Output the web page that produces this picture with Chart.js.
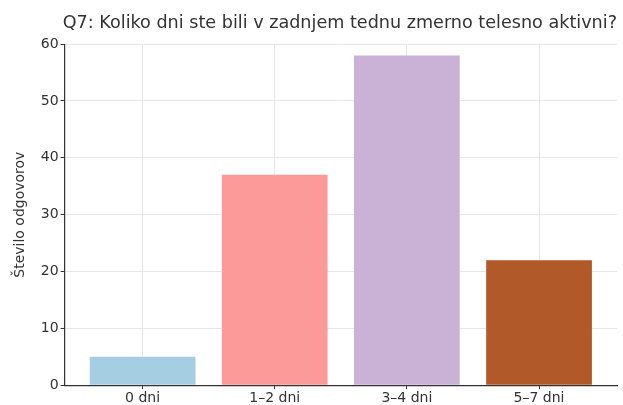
<!DOCTYPE html>
<html>
<head>
<meta charset="utf-8">
<script src="https://cdn.jsdelivr.net/npm/chart.js@4/dist/chart.umd.min.js"></script>
<style>
  html, body { margin: 0; padding: 0; background: #fff; }
  #wrap { width: 623px; height: 405px; }
</style>
</head>
<body>
<div id="wrap"><canvas id="c"></canvas></div>
<script>
const categories = ['0 dni', '1–2 dni', '3–4 dni', '5–7 dni'];
const counts = [5, 37, 58, 22];
const barColors = ['#a6cee3', '#fb9a99', '#cab2d6', '#b15928'];
const yTicks = [0, 10, 20, 30, 40, 50, 60];

const font = 'DejaVu Sans';

new Chart(document.getElementById('c'), {
    type: 'bar',
    data: {
        datasets: [{
            data: counts.map((v, i) => ({ x: i, y: v })),
            backgroundColor: barColors,
            borderWidth: 0,
            barPercentage: 0.8,
            categoryPercentage: 1
        }]
    },
    options: {
        responsive: true,
        maintainAspectRatio: false,
        animation: false,
        layout: { padding: { left: 8, right: 6, top: 7, bottom: -3 } },
        plugins: {
            legend: { display: false },
            tooltip: { enabled: false },
            title: {
                display: true,
                align: 'end',
                text: 'Q7: Koliko dni ste bili v zadnjem tednu zmerno telesno aktivni?',
                color: '#333',
                font: { family: font, size: 17.6, weight: 'normal' },
                padding: { top: 6, bottom: 10 }
            }
        },
        scales: {
            x: {
                type: 'linear',
                offset: false,
                min: -0.59,
                max: 3.59,
                afterBuildTicks: axis => {
                    axis.ticks = categories.map((c, i) => ({ value: i }));
                },
                ticks: {
                    callback: v => categories[v],
                    color: '#333',
                    font: { family: font, size: 14 },
                    padding: 1
                },
                grid: { offset: false, color: '#e8e8e8', tickColor: '#333', tickLength: 4 },
                border: { color: '#333', width: 1.2 }
            },
            y: {
                min: 0,
                max: 60,
                afterBuildTicks: axis => {
                    axis.ticks = yTicks.map(v => ({ value: v }));
                },
                ticks: {
                    color: '#333',
                    font: { family: font, size: 14 },
                    padding: 2
                },
                title: {
                    display: true,
                    text: 'Število odgovorov',
                    color: '#333',
                    font: { family: font, size: 14 },
                    padding: { bottom: 10 }
                },
                grid: { color: '#e8e8e8', tickColor: '#333', tickLength: 4 },
                border: { color: '#333', width: 1.2 }
            }
        }
    }
});
</script>
</body>
</html>
